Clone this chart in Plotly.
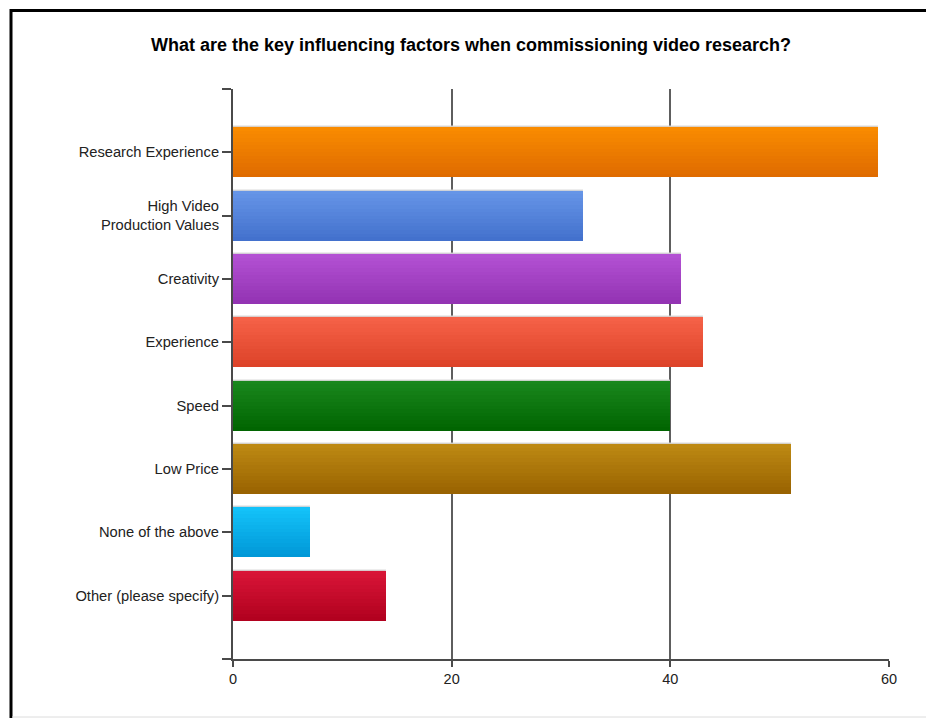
import plotly.graph_objects as go

# Survey responses: key influencing factors when commissioning video research
categories = [
    "Research Experience",
    "High Video<br>Production Values",
    "Creativity",
    "Experience",
    "Speed",
    "Low Price",
    "None of the above",
    "Other (please specify)",
]
values = [59, 32, 41, 43, 40, 51, 7, 14]

# Per-bar gradient endpoints (top colour, bottom colour)
top_colors = [
    (250, 140, 0), (103, 150, 232), (180, 82, 212), (246, 98, 72),
    (26, 136, 30), (190, 138, 20), (20, 196, 250), (218, 22, 56),
]
bottom_colors = [
    (222, 106, 0), (66, 112, 204), (146, 50, 178), (220, 66, 40),
    (0, 100, 0), (152, 98, 0), (0, 150, 214), (176, 0, 30),
]

x_ticks = [0, 20, 40, 60]

W, H = 926, 718
L, R, T, B = 233, 37, 89, 59
BAR_W = 0.79
N_SLICES = 14

positions = list(range(len(categories)))


def mix(c0, c1, t):
    return "rgb({},{},{})".format(*[round(a + (b - a) * t) for a, b in zip(c0, c1)])


fig = go.Figure()

# Base bar with a faint light outline
fig.add_trace(go.Bar(
    x=values, y=positions, orientation="h", width=BAR_W,
    marker=dict(color=[mix(t, b, 0.5) for t, b in zip(top_colors, bottom_colors)],
                line=dict(color="rgba(215,215,215,0.9)", width=1.5)),
    hoverinfo="skip", showlegend=False,
))

# Vertical gradient built from thin horizontal slices of each bar
slice_w = BAR_W / N_SLICES
for i in range(N_SLICES):
    t = (i + 0.5) / N_SLICES
    fig.add_trace(go.Bar(
        x=values, y=positions, orientation="h",
        width=slice_w * 1.02, offset=-BAR_W / 2 + i * slice_w,
        marker=dict(color=[mix(a, b, t) for a, b in zip(top_colors, bottom_colors)],
                    line=dict(width=0)),
        hoverinfo="skip", showlegend=False,
    ))


def px_to_paper_x(px):
    return (px - L) / (W - L - R)


def px_to_paper_y(py):
    return (H - B - py) / (H - T - B)


# Black frame around the chart (left and top edges visible)
fig.add_shape(type="rect", xref="paper", yref="paper",
              x0=px_to_paper_x(11), x1=px_to_paper_x(940),
              y0=px_to_paper_y(735), y1=px_to_paper_y(10.5),
              line=dict(color="black", width=3), fillcolor="rgba(0,0,0,0)",
              layer="above")
fig.add_shape(type="line", xref="paper", yref="paper",
              x0=px_to_paper_x(12), x1=px_to_paper_x(930),
              y0=px_to_paper_y(717), y1=px_to_paper_y(717),
              line=dict(color="#dcdcdc", width=1))

ytickvals = [-1] + positions + [len(categories)]
yticktext = [""] + categories + [""]

fig.update_layout(
    width=W, height=H,
    margin=dict(l=L, r=R, t=T, b=B),
    paper_bgcolor="white", plot_bgcolor="white",
    barmode="overlay", bargap=0,
    font=dict(family="Liberation Sans, Arial, sans-serif", color="#222"),
    title=dict(
        text="<b>What are the key influencing factors when commissioning video research?</b>",
        x=471 / W, xanchor="center", y=1 - 45 / H, yanchor="middle",
        font=dict(size=18, color="black"),
    ),
    xaxis=dict(
        range=[0, 60], tickvals=x_ticks, ticktext=[str(v) for v in x_ticks],
        showgrid=True, gridcolor="#5e5e5e", gridwidth=2,
        zeroline=False, showline=True, linecolor="#4a4a4a", linewidth=2,
        ticks="outside", ticklen=6, tickwidth=2, tickcolor="#4a4a4a",
        tickfont=dict(size=14.5, color="#222"),
    ),
    yaxis=dict(
        range=[len(categories), -1], tickvals=ytickvals, ticktext=yticktext,
        showgrid=False, zeroline=False, showline=True, linecolor="#4a4a4a", linewidth=2,
        ticks="outside", ticklen=9, tickwidth=1.5, tickcolor="#4a4a4a",
        tickfont=dict(size=14.7, color="#222"),
    ),
)

fig.write_html("out.html")
